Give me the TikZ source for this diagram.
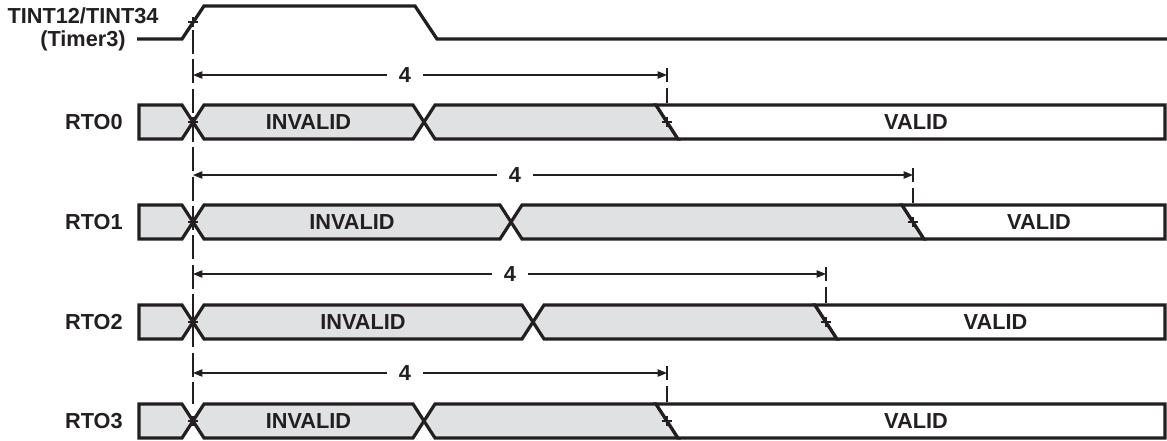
\documentclass[tikz,border=0pt]{standalone}
\usepackage{fontspec}
\setmainfont{Liberation Sans}
\usetikzlibrary{arrows.meta}
\definecolor{sigline}{RGB}{35,31,32}
\definecolor{sigfill}{RGB}{224,225,227}
\begin{document}
\begin{tikzpicture}[x=0.75pt,y=-0.75pt,
  sig/.style={draw=sigline,line width=2.4pt,line join=miter},
  inv/.style={sig,fill=sigfill},
  val/.style={sig,fill=white},
  lbl/.style={font=\fontsize{16.3}{17.25}\selectfont\bfseries,text=sigline,inner sep=0pt},
  dim/.style={draw=sigline,line width=0.9pt,{Triangle[length=7pt,width=5.5pt]}-{Triangle[length=7pt,width=5.5pt]}},
  guide/.style={draw=sigline,line width=0.8pt,dash pattern=on 18pt off 4pt},
  tick/.style={draw=sigline,line width=0.8pt},
  num/.style={lbl,fill=white,inner xsep=9pt,inner ysep=2pt}]
\useasboundingbox (0,0) rectangle (1167,440);

% reference guide line
\draw[guide] (193,30) -- (193,404);

% TINT signal
\node[lbl,align=center] (tint) at (83,29.5) {TINT12/TINT34\\(Timer3)};
\draw[sig] (137,39) -- (182,39) -- (204,6) -- (415,6) -- (437,39) -- (1167,39);
\draw[tick] (188,22) -- (198,22) (193,17) -- (193,27);

\foreach \yc/\xa/\xd/\ya/\xf [count=\i from 0] in
  {122/424/667/75/405, 222/511/913/175/515, 322/533/826/274/510, 421/424/667/373/405}{
  \pgfmathsetmacro\yt{\yc-17}
  \pgfmathsetmacro\yb{\yc+17}
  \draw[inv] (139,\yt) -- (182,\yt) -- (193,\yc) -- (182,\yb) -- (139,\yb) -- cycle;
  \draw[inv] (204,\yt) -- ({\xa-11},\yt) -- (\xa,\yc) -- ({\xa-11},\yb) -- (204,\yb) -- (193,\yc) -- cycle;
  \draw[inv] ({\xa+11},\yt) -- ({\xd-11},\yt) -- ({\xd+11},\yb) -- ({\xa+11},\yb) -- (\xa,\yc) -- cycle;
  \draw[val] ({\xd-11},\yt) -- (1165,\yt) -- (1165,\yb) -- ({\xd+11},\yb) -- cycle;
  \node[lbl,anchor=east] (rto\i) at (123,\yc) {RTO\i};
  \node[lbl] (inv\i) at ({(193+\xa)/2},\yc) {INVALID};
  \node[lbl] (val\i) at ({(\xd+1165)/2},\yc) {VALID};
  % dimension
  \coordinate (ds\i) at (193,\ya);
  \coordinate (de\i) at (\xd,\ya);
  \draw[dim] (ds\i) -- (de\i);
  \node[num] (four\i) at (\xf,\ya) {4};
  \draw[tick] (\xd,{\ya-7}) -- (\xd,{\ya+7});
  \draw[tick] (\xd,{\ya+13}) -- (\xd,{\yt-2});
  % crosshairs
  \draw[tick] (188,\yc) -- (198,\yc) (193,{\yc-5}) -- (193,{\yc+5});
  \draw[tick] ({\xd-5},\yc) -- ({\xd+5},\yc) (\xd,{\yc-5}) -- (\xd,{\yc+5});
}
\end{tikzpicture}
\end{document}
